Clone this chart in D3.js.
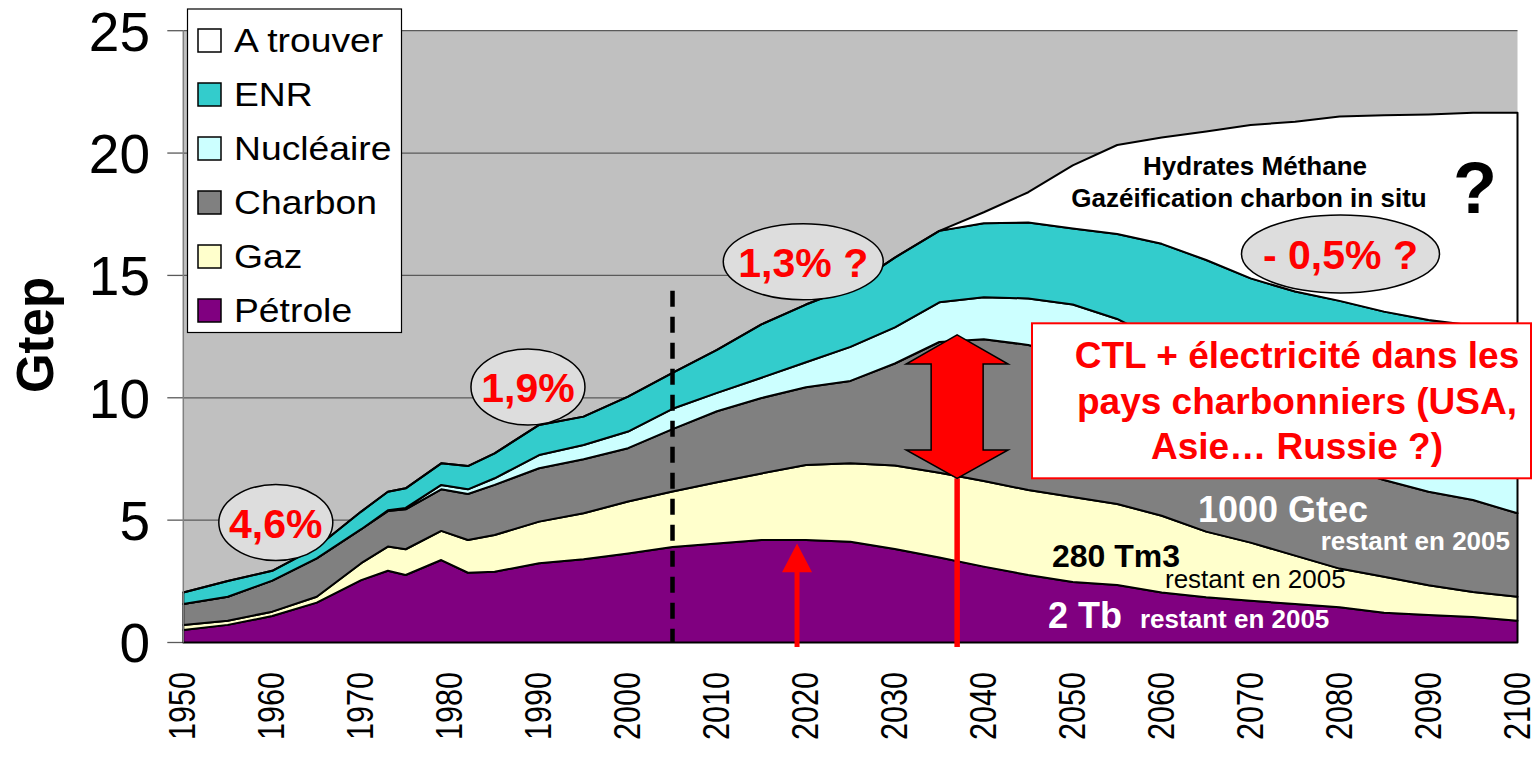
<!DOCTYPE html>
<html>
<head>
<meta charset="utf-8">
<style>
    body { margin: 0; background: #fff; }
    svg { display: block; font-family: "Liberation Sans", Arial, sans-serif; }
    .grid line { stroke: #5a5a5a; stroke-width: 1.3; }
    .ytick text { font-size: 55px; fill: #000; }
    .xtick text { font-size: 36px; fill: #000; }
    .legend text { font-size: 33px; fill: #000; }
    .pct { font-size: 41px; font-weight: bold; fill: #ff0000; }
    .bold { font-weight: bold; }
</style>
</head>
<body>
<svg width="1539" height="759"></svg>
<script src="https://cdnjs.cloudflare.com/ajax/libs/d3/7.8.5/d3.min.js"></script>
<script>

// values (Gtep per source, stacked bottom to top)
const years = [1950, 1955, 1960, 1965, 1970, 1973, 1975, 1979, 1982, 1985, 1990, 1995, 2000, 2005,
    2010, 2015, 2020, 2025, 2030, 2035, 2040, 2045, 2050, 2055, 2060, 2065, 2070, 2075, 2080, 2085, 2090, 2095, 2100]

const petrole = [0.51, 0.72, 1.08, 1.63, 2.55, 2.93, 2.76, 3.37, 2.85, 2.89, 3.24, 3.40, 3.64, 3.90,
    4.05, 4.19, 4.19, 4.12, 3.82, 3.47, 3.10, 2.76, 2.47, 2.35, 2.04, 1.85, 1.71, 1.57, 1.44, 1.22, 1.12, 1.04, 0.89]
const gaz = [0.21, 0.17, 0.18, 0.24, 0.69, 0.99, 1.05, 1.19, 1.34, 1.50, 1.70, 1.88, 2.12, 2.27,
    2.50, 2.72, 3.06, 3.20, 3.41, 3.47, 3.50, 3.47, 3.48, 3.31, 3.14, 2.68, 2.37, 1.98, 1.58, 1.47, 1.22, 1.02, 0.98]
const charbon = [0.85, 0.98, 1.27, 1.57, 1.39, 1.45, 1.63, 1.70, 1.88, 2.05, 2.18, 2.21, 2.18, 2.55,
    2.90, 3.08, 3.18, 3.37, 4.17, 5.34, 5.79, 5.93, 5.75, 5.34, 5.02, 4.87, 4.52, 4.35, 4.18, 3.95, 3.82, 3.76, 3.41]
const nucleaire = [0, 0, 0, 0, 0, 0.03, 0.06, 0.18, 0.19, 0.27, 0.54, 0.58, 0.68, 0.83,
    0.75, 0.83, 1.02, 1.39, 1.48, 1.62, 1.72, 1.90, 2.11, 2.22, 2.10, 2.05, 2.00, 1.95, 1.90, 1.86, 1.82, 1.78, 1.75]
const enr = [0.47, 0.64, 0.40, 0.45, 0.72, 0.76, 0.80, 0.88, 0.95, 1.02, 1.23, 1.16, 1.43, 1.47,
    1.76, 2.18, 2.36, 2.43, 2.85, 2.92, 3.02, 3.10, 3.11, 3.47, 3.99, 4.18, 4.28, 4.49, 4.86, 5.02, 5.20, 5.35, 5.75]
const aTrouver = [0, 0, 0, 0, 0, 0, 0, 0, 0, 0, 0, 0, 0, 0,
    0, 0, 0, 0, 0, 0, 0.45, 1.24, 2.58, 3.64, 4.35, 5.25, 6.27, 6.94, 7.53, 8.02, 8.40, 8.70, 8.87]

const keys = ["Pétrole", "Gaz", "Charbon", "Nucléaire", "ENR", "A trouver"]
const colors = ["#800080", "#ffffcc", "#808080", "#ccffff", "#33cccc", "#ffffff"]
const yTicks = [0, 5, 10, 15, 20, 25]
const xTicks = [1950, 1960, 1970, 1980, 1990, 2000, 2010, 2020, 2030, 2040, 2050, 2060, 2070, 2080, 2090, 2100]

let svg = d3.select("svg")

let x = d3.scaleLinear().domain([1950, 2100]).range([183.3, 1517.5])
let y = d3.scaleLinear().domain([0, 25]).range([642.5, 30.7])
let color = d3.scaleOrdinal().domain(keys).range(colors)

let rows = years.map((yr, i) => ({
    year: yr,
    "Pétrole": petrole[i],
    "Gaz": gaz[i],
    "Charbon": charbon[i],
    "Nucléaire": nucleaire[i],
    "ENR": enr[i],
    "A trouver": aTrouver[i]
}))

let stacked = d3.stack().keys(keys)(rows)

// plot background
svg.append("rect")
    .attr("x", x(1950)).attr("y", y(25))
    .attr("width", x(2100) - x(1950)).attr("height", y(0) - y(25))
    .attr("fill", "#c0c0c0")

// gridlines + y ticks
let yAxis = svg.append("g").attr("class", "grid ytick")
yAxis.selectAll("line.g")
    .data(yTicks.filter(d => d > 0))
    .join("line")
    .attr("class", "g")
    .attr("x1", x(1950)).attr("x2", x(2100))
    .attr("y1", d => y(d)).attr("y2", d => y(d))
yAxis.selectAll("line.t")
    .data(yTicks)
    .join("line")
    .attr("class", "t")
    .attr("x1", x(1950) - 16).attr("x2", x(1950))
    .attr("y1", d => y(d)).attr("y2", d => y(d))
yAxis.selectAll("text")
    .data(yTicks)
    .join("text")
    .attr("x", 150)
    .attr("y", d => y(d))
    .attr("dy", "0.36em")
    .attr("text-anchor", "end")
    .text(d => d)

// stacked areas
let area = d3.area()
    .x(d => x(d.data.year))
    .y0(d => y(d[0]))
    .y1(d => y(d[1]))

svg.append("g")
    .selectAll("path")
    .data(stacked)
    .join("path")
    .attr("fill", d => color(d.key))
    .attr("stroke", "#000")
    .attr("stroke-width", 2)
    .attr("stroke-linejoin", "round")
    .attr("d", area)

// left axis line
svg.append("line")
    .attr("x1", x(1950)).attr("x2", x(1950))
    .attr("y1", y(25)).attr("y2", y(0))
    .attr("stroke", "#808080").attr("stroke-width", 1.5)

// x labels
svg.append("g").attr("class", "xtick")
    .selectAll("text")
    .data(xTicks)
    .join("text")
    .attr("transform", d => `translate(${x(d) + 12}, 672) rotate(-90)`)
    .attr("text-anchor", "end")
    .attr("textLength", 68)
    .attr("lengthAdjust", "spacingAndGlyphs")
    .text(d => d)

// y title
svg.append("text")
    .attr("transform", "translate(53, 335) rotate(-90)")
    .attr("text-anchor", "middle")
    .attr("class", "bold")
    .style("font-size", "51px")
    .text("Gtep")

// 2005 dashed line
svg.append("line")
    .attr("x1", x(2005)).attr("x2", x(2005))
    .attr("y1", y(14.37)).attr("y2", y(0))
    .attr("stroke", "#000").attr("stroke-width", 4.5)
    .attr("stroke-dasharray", "16 10")

// red arrow 2020
let xa = x(2019)
svg.append("line")
    .attr("x1", xa).attr("x2", xa)
    .attr("y1", y(2.9)).attr("y2", 647)
    .attr("stroke", "#ff0000").attr("stroke-width", 5)
svg.append("path")
    .attr("d", `M${xa - 15},${y(2.87)} L${xa},${y(4.05)} L${xa + 15},${y(2.87)} Z`)
    .attr("fill", "#ff0000")

// CTL arrow
let xb = x(2037)
svg.append("line")
    .attr("x1", xb).attr("x2", xb)
    .attr("y1", y(6.71)).attr("y2", 647)
    .attr("stroke", "#ff0000").attr("stroke-width", 5.5)
let tt = y(12.57), hb1 = y(11.38), hb2 = y(7.87), bt = y(6.71)
svg.append("path")
    .attr("d", `M${xb},${tt} L${xb + 51},${hb1} L${xb + 26},${hb1} L${xb + 26},${hb2} L${xb + 51},${hb2}
        L${xb},${bt} L${xb - 51},${hb2} L${xb - 26},${hb2} L${xb - 26},${hb1} L${xb - 51},${hb1} Z`)
    .attr("fill", "#ff0000").attr("stroke", "#000").attr("stroke-width", 1.5)

// growth ellipses
let bubbles = [
    { yr: 1960.4, v: 4.9, rx: 57, ry: 38, label: "4,6%" },
    { yr: 1988.75, v: 10.44, rx: 57, ry: 38, label: "1,9%" },
    { yr: 2019.7, v: 15.56, rx: 80, ry: 38, label: "1,3% ?" },
    { yr: 2080.1, v: 15.88, rx: 99, ry: 39, label: "- 0,5% ?" }
]
let bub = svg.append("g").selectAll("g").data(bubbles).join("g")
bub.append("ellipse")
    .attr("cx", d => x(d.yr)).attr("cy", d => y(d.v))
    .attr("rx", d => d.rx).attr("ry", d => d.ry)
    .attr("fill", "#dddddd").attr("stroke", "#000").attr("stroke-width", 1.5)
bub.append("text")
    .attr("class", "pct")
    .attr("x", d => x(d.yr)).attr("y", d => y(d.v) + 15)
    .attr("text-anchor", "middle")
    .text(d => d.label)

// A trouver labels
svg.append("text").attr("class", "bold")
    .attr("x", 1255).attr("y", 175).attr("text-anchor", "middle")
    .style("font-size", "26px").text("Hydrates Méthane")
svg.append("text").attr("class", "bold")
    .attr("x", 1249).attr("y", 207).attr("text-anchor", "middle")
    .style("font-size", "26px").text("Gazéification charbon in situ")
svg.append("text").attr("class", "bold")
    .attr("x", 1475).attr("y", 213).attr("text-anchor", "middle")
    .style("font-size", "72px").text("?")

// CTL box
svg.append("rect")
    .attr("x", 1032).attr("y", 323.3)
    .attr("width", 499).attr("height", 155)
    .attr("fill", "#fff").attr("stroke", "#ff0000").attr("stroke-width", 2)
let ctl = ["CTL + électricité dans les", "pays charbonniers (USA,", "Asie… Russie ?)"]
svg.append("g").selectAll("text")
    .data(ctl)
    .join("text")
    .attr("class", "bold")
    .attr("x", 1297)
    .attr("y", (d, i) => 368 + i * 45.5)
    .attr("text-anchor", "middle")
    .style("font-size", "37px")
    .style("fill", "#ff0000")
    .text(d => d)

// reserves labels
svg.append("text").attr("class", "bold")
    .attr("x", 1283).attr("y", 522).attr("text-anchor", "middle")
    .style("font-size", "36px").style("fill", "#fff").text("1000 Gtec")
svg.append("text").attr("class", "bold")
    .attr("x", 1510).attr("y", 550).attr("text-anchor", "end")
    .style("font-size", "26px").style("fill", "#fff").text("restant en 2005")
svg.append("text").attr("class", "bold")
    .attr("x", 1052).attr("y", 567)
    .style("font-size", "32px").text("280 Tm3")
svg.append("text")
    .attr("x", 1165).attr("y", 588)
    .style("font-size", "26px").text("restant en 2005")
svg.append("text").attr("class", "bold")
    .attr("x", 1048).attr("y", 628)
    .style("font-size", "36px").style("fill", "#fff").text("2 Tb")
svg.append("text").attr("class", "bold")
    .attr("x", 1140).attr("y", 628)
    .style("font-size", "26px").style("fill", "#fff").text("restant en 2005")

// legend
let legend = svg.append("g").attr("class", "legend")
legend.append("rect")
    .attr("x", 187.5).attr("y", 9).attr("width", 214).attr("height", 323.5)
    .attr("fill", "#fff").attr("stroke", "#000").attr("stroke-width", 1.2)
let items = legend.selectAll("g.item")
    .data(keys.slice().reverse())
    .join("g")
    .attr("class", "item")
    .attr("transform", (d, i) => `translate(198, ${29 + i * 54})`)
items.append("rect")
    .attr("width", 23).attr("height", 23)
    .attr("fill", d => color(d))
    .attr("stroke", "#000").attr("stroke-width", 1.5)
items.append("text")
    .attr("transform", "translate(36, 23) scale(1.13, 1)")
    .text(d => d)

</script>
</body>
</html>
